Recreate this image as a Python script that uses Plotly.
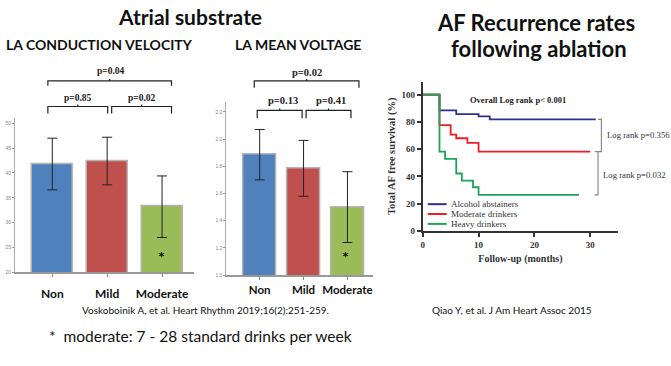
import plotly.graph_objects as go

W, H = 671, 366

# ---------------- data ----------------
groups = ["Non", "Mild", "Moderate"]
bar_colors = ["#4F81BD", "#C0504D", "#9BBB59"]

cv_means = [41.8, 42.4, 33.2]          # LA conduction velocity
cv_err = [5.2, 4.8, 6.2]
cv_ticks = [20, 25, 30, 35, 40, 45, 50]

mv_means = [1.885, 1.785, 1.50]        # LA mean voltage
mv_err = [0.185, 0.205, 0.26]
mv_ticks = [1.0, 1.2, 1.4, 1.6, 1.8, 2.0, 2.2]

km_names = ["Alcohol abstainers", "Moderate drinkers", "Heavy drinkers"]
km_colors = ["#2E3192", "#ED1C24", "#1FA35A"]
abst_t = [0, 3, 6, 10, 12, 31]
abst_s = [100, 88.4, 85.7, 84.0, 81.8, 81.8]
mod_t = [0, 3, 5, 6, 8, 10, 30]
mod_s = [100, 77.7, 70.7, 68.0, 64.6, 58.1, 58.1]
heavy_t = [0, 3, 4, 6, 7, 9, 10, 28]
heavy_s = [100, 58.1, 52.8, 42.1, 36.8, 32.0, 26.4, 26.4]
km_xticks = [0, 10, 20, 30]
km_yticks = [0, 20, 40, 60, 80, 100]


def fx(px):
    return px / W


def fy(py):
    return 1 - py / H


fig = go.Figure()

# bar chart 1
fig.add_trace(go.Bar(
    x=[0, 1, 2], y=cv_means, width=0.75,
    marker=dict(color=bar_colors, line=dict(color="#B4B4B4", width=1.5)),
    error_y=dict(type="data", array=cv_err, color="#222", thickness=1, width=5),
    xaxis="x", yaxis="y", showlegend=False))

# bar chart 2
fig.add_trace(go.Bar(
    x=[0, 1, 2], y=mv_means, width=0.75,
    marker=dict(color=bar_colors, line=dict(color="#B4B4B4", width=1.5)),
    error_y=dict(type="data", array=mv_err, color="#222", thickness=1, width=5),
    xaxis="x2", yaxis="y2", showlegend=False))

# KM curves
for t, s, c, n in [(abst_t, abst_s, km_colors[0], km_names[0]),
                   (mod_t, mod_s, km_colors[1], km_names[1]),
                   (heavy_t, heavy_s, km_colors[2], km_names[2])]:
    fig.add_trace(go.Scatter(x=t, y=s, mode="lines", line=dict(color=c, width=1.8, shape="hv"),
                             name=n, xaxis="x3", yaxis="y3", showlegend=False))

cat_font = dict(family="Lato", size=12, color="#111", weight="bold")
small_font = dict(family="Liberation Sans", size=5, color="#888")
serif_b = dict(family="Liberation Serif", size=9, color="#333", weight="bold")

fig.update_layout(
    width=W, height=H, margin=dict(l=0, r=0, t=0, b=0),
    paper_bgcolor="white", plot_bgcolor="white",
    bargap=0,
    xaxis=dict(domain=[fx(13), fx(193)], range=[-0.68, 2.59], tickvals=[0, 1, 2], ticktext=groups,
               tickfont=cat_font, ticks="outside", ticklen=3, tickcolor="#888",
               showline=True, linecolor="#999", linewidth=2, showgrid=False, zeroline=False,
               ticklabelstandoff=6),
    yaxis=dict(domain=[fy(276), fy(120)], range=[20, 51], tickvals=cv_ticks, tickfont=small_font,
               ticks="outside", ticklen=2, tickcolor="#999", showline=True, linecolor="#aaa",
               linewidth=1, showgrid=False, zeroline=False, anchor="x"),
    xaxis2=dict(domain=[fx(225), fx(372)], range=[-0.76, 2.58], tickvals=[0, 1, 2], ticktext=groups,
                tickfont=dict(family="Lato", size=11.5, color="#111", weight="bold"),
                ticks="outside", ticklen=3, tickcolor="#888",
                showline=True, linecolor="#999", linewidth=2, showgrid=False, zeroline=False,
                anchor="y2"),
    yaxis2=dict(domain=[fy(279), fy(103)], range=[1.0, 2.275], tickvals=mv_ticks,
                tickformat=".1f", tickfont=small_font,
                ticks="outside", ticklen=2, tickcolor="#999", showline=True, linecolor="#aaa",
                linewidth=1, showgrid=False, zeroline=False, anchor="x2"),
    xaxis3=dict(domain=[fx(422), fx(618)], range=[0, 35], tickvals=km_xticks,
                tickfont=serif_b, ticks="outside", ticklen=4, tickwidth=1.5, tickcolor="#333",
                showline=True, linecolor="#333", linewidth=2, showgrid=False, zeroline=False,
                anchor="y3",
                title=dict(text="Follow-up (months)", font=dict(family="Liberation Serif", size=10,
                                                                 color="#333", weight="bold"),
                           standoff=6)),
    yaxis3=dict(domain=[fy(234), fy(83)], range=[0, 109.4], tickvals=km_yticks,
                tickfont=serif_b, ticks="outside", ticklen=4, tickwidth=1.5, tickcolor="#333",
                showline=True, linecolor="#333", linewidth=2, showgrid=False, zeroline=False,
                anchor="x3",
                title=dict(text="Total AF free survival (%)", font=dict(family="Liberation Serif", size=10.5,
                                                                         color="#333", weight="bold"),
                           standoff=4)),
)

ann = []


def text(s, px, py, size, family="Lato", weight="normal", color="#111", anchor="center"):
    ann.append(dict(text=s, x=fx(px), y=fy(py), xref="paper", yref="paper", showarrow=False,
                    xanchor=anchor, yanchor="middle",
                    font=dict(family=family, size=size, color=color, weight=weight)))


# titles
text("Atrial substrate", 189, 17, 21, weight="bold")
text("LA CONDUCTION VELOCITY", 98, 45, 14, weight="bold")
text("LA MEAN VOLTAGE", 297, 45, 14, weight="bold")
text("AF Recurrence rates", 536, 23, 22, weight="bold")
text("following ablation", 539, 49, 22, weight="bold")

# citations / footnote
text("Voskoboinik A, et al. Heart Rhythm 2019;16(2):251-259.", 204, 314, 10)
text("Qiao Y, et al. J Am Heart Assoc 2015", 512, 314, 10)
text("*  moderate: 7 - 28 standard drinks per week", 45, 341, 15.5, anchor="left")

# p-values
text("p=0.04", 109, 72, 9.5, family="Liberation Serif", weight="bold", color="#222")
text("p=0.85", 76, 99, 9.5, family="Liberation Serif", weight="bold", color="#222")
text("p=0.02", 140, 99, 9.5, family="Liberation Serif", weight="bold", color="#222")
text("p=0.02", 306, 73, 10.5, family="Liberation Serif", weight="bold", color="#222")
text("p=0.13", 282, 102, 10.5, family="Liberation Serif", weight="bold", color="#222")
text("p=0.41", 330, 102, 10.5, family="Liberation Serif", weight="bold", color="#222")

# asterisks in moderate bars
text("*", 160, 260, 16, weight="bold")
text("*", 345, 260, 16, weight="bold")

# KM annotations
text("Overall Log rank p< 0.001", 518, 101, 8.5, family="Liberation Serif", weight="bold", color="#222")
text("Log rank p=0.356", 605, 137, 8.7, family="Liberation Serif", color="#333", anchor="left")
text("Log rank p=0.032", 601, 177, 8.7, family="Liberation Serif", color="#333", anchor="left")
for i, n in enumerate(km_names):
    text(n, 448, 207 + 10 * i, 9, family="Liberation Serif", color="#333", anchor="left")

shapes = []


def bracket(x0, x1, yt, yb):
    path = (f"M {fx(x0)},{fy(yb)} L {fx(x0)},{fy(yt)} L {fx(x1)},{fy(yt)} L {fx(x1)},{fy(yb)} "
            f"M {fx((x0 + x1) / 2)},{fy(yt)} L {fx((x0 + x1) / 2)},{fy(yt - 2)}")
    shapes.append(dict(type="path", path=path, xref="paper", yref="paper",
                       line=dict(color="#222", width=1.2)))


bracket(46, 170, 82, 87)
bracket(46, 106, 108, 115)
bracket(110, 170, 108, 115)
bracket(253, 358, 82, 89)
bracket(256, 301, 112, 120)
bracket(305, 350, 112, 120)

# KM right-hand brackets (data coordinates)
for (xv, ya, yb) in [(32.0, 81.8, 58.1), (31.4, 58.1, 26.4)]:
    shapes.append(dict(type="path", xref="x3", yref="y3",
                       path=f"M {xv - 0.6},{ya} L {xv},{ya} L {xv},{yb} L {xv - 0.6},{yb}",
                       line=dict(color="#888", width=1.2)))

# KM legend swatches
for i, c in enumerate(km_colors):
    shapes.append(dict(type="line", xref="paper", yref="paper",
                       x0=fx(427), x1=fx(446), y0=fy(207 + 10 * i), y1=fy(207 + 10 * i),
                       line=dict(color=c, width=2)))

fig.update_layout(annotations=ann, shapes=shapes)
fig.write_html("out.html", config={"displayModeBar": False},
               post_script="document.body.style.margin='0';document.body.style.padding='0';")
